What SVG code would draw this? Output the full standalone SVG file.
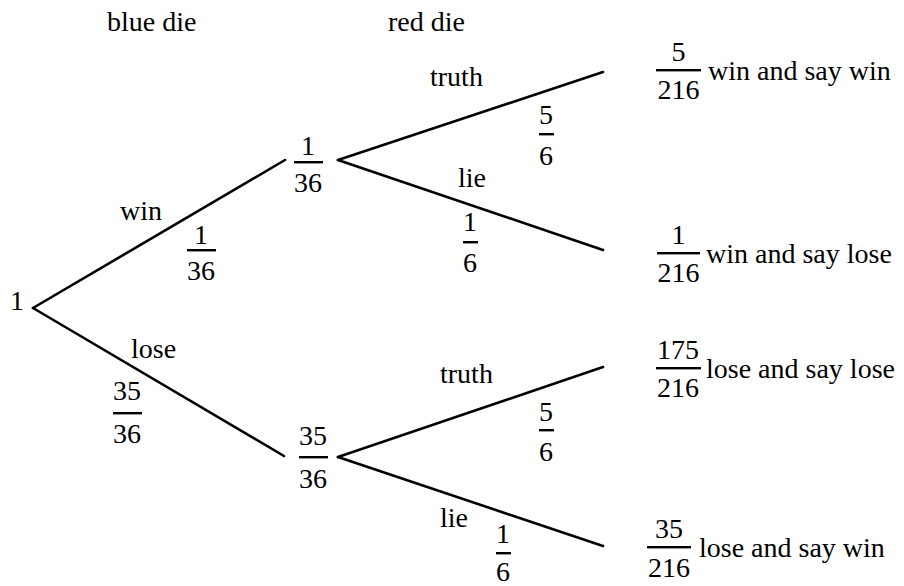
<svg xmlns="http://www.w3.org/2000/svg" width="904" height="586" viewBox="0 0 904 586">
<style>
.t text{font-size:28px;fill:#000;font-family:"Liberation Serif","Tinos","Times New Roman","Times","Nimbus Roman","DejaVu Serif",serif}
.c{text-anchor:middle}
.e{stroke:#000;stroke-width:2.6;fill:none;stroke-linecap:round}
.bar{fill:#000}
</style>
<rect width="904" height="586" fill="#fff"/>
<g class="t">
<g id="headers">
<text x="107" y="31">blue die</text>
<text x="388" y="31">red die</text>
</g>
<g id="connectors">
<line class="e" x1="33" y1="308" x2="285" y2="160"/>
<line class="e" x1="33" y1="308" x2="284" y2="456"/>
<line class="e" x1="338" y1="160" x2="603" y2="72"/>
<line class="e" x1="338" y1="160" x2="603" y2="250"/>
<line class="e" x1="338" y1="457" x2="603" y2="367"/>
<line class="e" x1="338" y1="457" x2="603" y2="546"/>
</g>
<g id="edge-labels">
<text x="120" y="220">win</text>
<g><text class="c" x="201" y="244">1</text><rect class="bar" x="187" y="249" width="29" height="2.4"/><text class="c" x="201" y="280">36</text></g>
<text x="131" y="358">lose</text>
<g><text class="c" x="127" y="400">35</text><rect class="bar" x="113" y="412" width="29" height="2.4"/><text class="c" x="127" y="443">36</text></g>
<text x="430" y="86">truth</text>
<g><text class="c" x="546" y="124">5</text><rect class="bar" x="539" y="133" width="15" height="2.4"/><text class="c" x="546" y="165">6</text></g>
<text x="458" y="187">lie</text>
<g><text class="c" x="470" y="231">1</text><rect class="bar" x="463" y="241" width="15" height="2.4"/><text class="c" x="470" y="272">6</text></g>
<text x="440" y="383">truth</text>
<g><text class="c" x="546" y="421">5</text><rect class="bar" x="539" y="429" width="15" height="2.4"/><text class="c" x="546" y="461">6</text></g>
<text x="440" y="527">lie</text>
<g><text class="c" x="503" y="543">1</text><rect class="bar" x="496" y="552" width="15" height="2.4"/><text class="c" x="503" y="581">6</text></g>
</g>
<g id="node-root"><text x="10" y="310">1</text></g>
<g id="node-win"><text class="c" x="308" y="155">1</text><rect class="bar" x="294" y="161" width="29" height="2.4"/><text class="c" x="308" y="192">36</text></g>
<g id="node-lose"><text class="c" x="313" y="445">35</text><rect class="bar" x="299" y="456" width="29" height="2.4"/><text class="c" x="313" y="488">36</text></g>
<g id="leaf-win-win"><text class="c" x="678.5" y="61">5</text><rect class="bar" x="656" y="69" width="45" height="2.4"/><text class="c" x="678.5" y="99">216</text><text x="708" y="80">win and say win</text></g>
<g id="leaf-win-lose"><text class="c" x="678.5" y="244">1</text><rect class="bar" x="657" y="252" width="43" height="2.4"/><text class="c" x="678.5" y="282">216</text><text x="706" y="263">win and say lose</text></g>
<g id="leaf-lose-lose"><text class="c" x="678" y="359">175</text><rect class="bar" x="656" y="367" width="45" height="2.4"/><text class="c" x="678" y="397">216</text><text x="706" y="378">lose and say lose</text></g>
<g id="leaf-lose-win"><text class="c" x="669" y="538">35</text><rect class="bar" x="647" y="546" width="44" height="2.4"/><text class="c" x="669" y="577">216</text><text x="699" y="557">lose and say win</text></g>
</g>
</svg>
